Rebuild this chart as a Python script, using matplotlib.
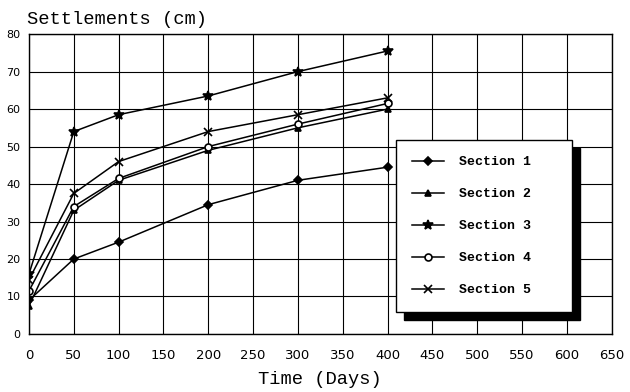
import matplotlib.pyplot as plt

days = [0, 50, 100, 200, 300, 400]
section1 = [9, 20, 24.5, 34.5, 41, 44.5]
section2 = [7.5, 33, 41, 49, 55, 60]
section3 = [16, 54, 58.5, 63.5, 70, 75.5]
section4 = [11.5, 34, 41.5, 50, 56, 61.5]
section5 = [14.5, 37.5, 46, 54, 58.5, 63]

labels = ["Section 1", "Section 2", "Section 3", "Section 4", "Section 5"]
series = [section1, section2, section3, section4, section5]
markers = ["D", "^", "*", "o", "x"]
sizes = [4, 5, 7, 5, 6]

fig = plt.figure(figsize=(6.3, 3.92), dpi=100)
ax = fig.add_axes([0.046, 0.148, 0.925, 0.765])

for vals, lab, m, s in zip(series, labels, markers, sizes):
    mfc = "white" if m == "o" else "black"
    ax.plot(days, vals, color="black", lw=1.1, marker=m, ms=s,
            mfc=mfc, mec="black", mew=1.2, label=lab)

ax.set_xlim(0, 650)
ax.set_ylim(0, 80)
ax.set_xticks(range(0, 651, 50))
ax.set_yticks(range(0, 81, 10))
ax.grid(True, color="black", lw=0.8)
ax.tick_params(length=0)
ax.tick_params(axis="x", pad=11, labelsize=9.5)
ax.tick_params(axis="y", pad=6, labelsize=8)
for sp in ax.spines.values():
    sp.set_linewidth(1.0)

ax.text(-0.003, 1.02, "Settlements (cm)", transform=ax.transAxes,
        family="Liberation Mono", fontsize=13.5, ha="left", va="bottom")
ax.set_xlabel("Time (Days)", family="Liberation Mono", fontsize=13.5, labelpad=6)

# legend box: left 0.63, bottom 0.073, width 0.302 (axes coords)
leg = ax.legend(loc="lower left", bbox_to_anchor=(0.63, 0.073, 0.302, 0.574),
                mode="expand", frameon=True, fancybox=False, edgecolor="black",
                prop={"family": "Liberation Mono", "weight": "bold", "size": 9.5},
                labelspacing=1.5, handlelength=2.4, borderpad=1.2,
                handletextpad=1.2, borderaxespad=0,
                shadow={"color": "black", "ox": 6, "oy": -6, "alpha": 1})
leg.get_frame().set_linewidth(1.0)
leg.get_frame().set_alpha(1)

fig.savefig("out.png", dpi=100)
